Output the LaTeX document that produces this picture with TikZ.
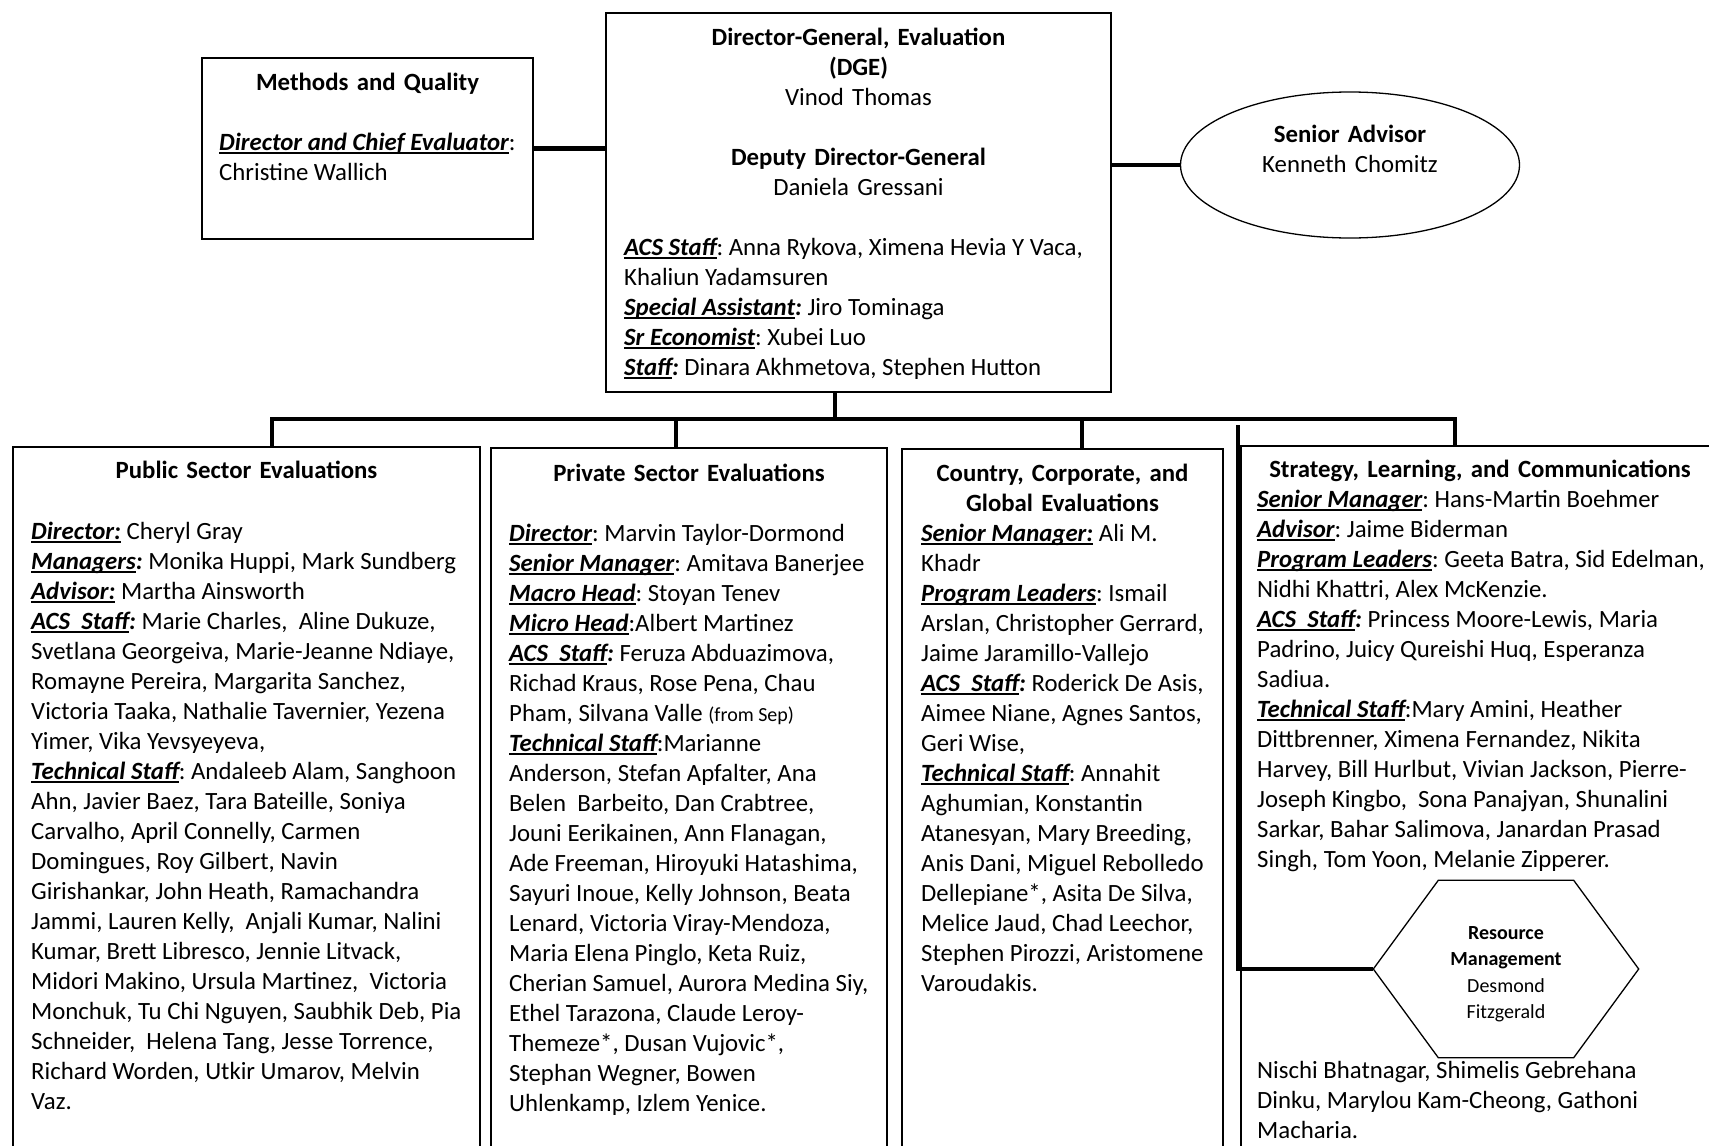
\documentclass[tikz,border=0pt]{standalone}
\usepackage{fontspec}
\setmainfont{Carlito}
\usetikzlibrary{shapes.geometric}
\frenchspacing
\newcommand{\ulab}[1]{\leavevmode\setbox0=\hbox{\bfseries\itshape #1}\rlap{\rule[-3.5pt]{\wd0}{1.2pt}}\box0\relax}
\newcommand{\bic}{\textbf{\textit{:}}}
\newcommand{\mainsize}{\fontsize{24.8}{30}\selectfont}
\begin{document}
\begin{tikzpicture}[x=1pt,y=-1pt,
  font=\mainsize,
  box/.style={draw, line width=1.3pt, inner sep=0pt},
  conn/.style={line width=4.5pt},
  body/.style={anchor=base west, inner sep=0pt, text width=520pt, align=flush left},
  ctitle/.style={anchor=base, inner sep=0pt, text width=480pt, align=center, font=\mainsize\bfseries},
  ctext/.style={anchor=base, inner sep=0pt, text width=480pt, align=center}]
\useasboundingbox (0,0) rectangle (1709,1146);
\clip (0,0) rectangle (1709,1146);
\fill[white] (0,0) rectangle (1709,1146);

% boxes
\node[box, minimum width=331pt, minimum height=181pt] (mq) at (367.5,148.5) {};
\node[box, minimum width=505pt, minimum height=379pt] (dge) at (858.5,202.5) {};
\node[box, ellipse, minimum width=339pt, minimum height=146pt] (sa) at (1350,165) {};
\node[box, minimum width=467pt, minimum height=723pt] (pse) at (246.5,808.5) {};
\node[box, minimum width=396pt, minimum height=722pt] (pvt) at (689,809) {};
\node[box, minimum width=321pt, minimum height=721pt] (ccg) at (1062.5,809.5) {};
\node[box, minimum width=479pt, minimum height=724pt] (slc) at (1480.5,808) {};
\node[inner sep=0pt, minimum width=265pt, minimum height=177pt] (rm) at (1506,969) {};
\draw[line width=1.3pt, fill=white] (rm.west) -- ([xshift=65pt]rm.north west) -- ([xshift=-65pt]rm.north east) -- (rm.east) -- ([xshift=-65pt]rm.south east) -- ([xshift=65pt]rm.south west) -- cycle;

% connectors
\coordinate (d0) at (835,419);
\coordinate (d1) at (272,419);
\coordinate (d2) at (676,419);
\coordinate (d3) at (1082,419);
\coordinate (d4) at (1455,419);
\coordinate (d5) at (1238,425);
\draw[conn] (mq.east) -- (mq.east -| dge.west);
\draw[conn] (sa.west) -- (sa.west -| dge.east);
\draw[conn] (d0 |- dge.south) -- (d0);
\draw[conn] (d1 |- pse.north) -- (d1) -- (d4) -- (d4 |- slc.north);
\draw[conn] (d2) -- (d2 |- pvt.north);
\draw[conn] (d3) -- (d3 |- ccg.north);
\draw[conn] (d5) -- (d5 |- rm.west) -- (rm.west);

% Methods and Quality
\node[ctitle] (mqt) at (367.5,90) {Methods and Quality};
\node[body] (mqb) at (219,150) {\ulab{Director and Chief Evaluator}:\\Christine Wallich};

% DGE
\node[ctitle] (dget) at (858.5,45) {Director-General, Evaluation\\(DGE)\\\mdseries Vinod Thomas\\[30pt]\bfseries Deputy Director-General\\\mdseries Daniela Gressani};
\node[body] (dgeb) at (624,255) {\ulab{ACS Staff}: Anna Rykova, Ximena Hevia Y Vaca,\\
Khaliun Yadamsuren\\
\ulab{Special Assistant}\bic{} Jiro Tominaga\\
\ulab{Sr Economist}: Xubei Luo\\
\ulab{Staff}\bic{} Dinara Akhmetova, Stephen Hutton};

% Senior Advisor
\node[ctitle] (sat) at (1350,142) {Senior Advisor\\\mdseries Kenneth Chomitz};

% Public Sector
\node[ctitle] (pset) at (246.5,478) {Public Sector Evaluations};
\node[body] (pseb) at (31,539) {\ulab{Director:} Cheryl Gray\\
\ulab{Managers}\bic{} Monika Huppi, Mark Sundberg\\
\ulab{Advisor:} Martha Ainsworth\\
\ulab{ACS\ \ Staff}\bic{} Marie Charles,\ \ Aline Dukuze,\\
Svetlana Georgeiva, Marie-Jeanne Ndiaye,\\
Romayne Pereira, Margarita Sanchez,\\
Victoria Taaka, Nathalie Tavernier, Yezena\\
Yimer, Vika Yevsyeyeva,\\
\ulab{Technical Staff}: Andaleeb Alam, Sanghoon\\
Ahn, Javier Baez, Tara Bateille, Soniya\\
Carvalho, April Connelly, Carmen\\
Domingues, Roy Gilbert, Navin\\
Girishankar, John Heath, Ramachandra\\
Jammi, Lauren Kelly,\ \ Anjali Kumar, Nalini\\
Kumar, Brett Libresco, Jennie Litvack,\\
Midori Makino, Ursula Martinez,\ \ Victoria\\
Monchuk, Tu Chi Nguyen, Saubhik Deb, Pia\\
Schneider,\ \ Helena Tang, Jesse Torrence,\\
Richard Worden, Utkir Umarov, Melvin\\
Vaz.};

% Private Sector
\node[ctitle] (pvtt) at (689,481) {Private Sector Evaluations};
\node[body] (pvtb) at (509,541) {\ulab{Director}: Marvin Taylor-Dormond\\
\ulab{Senior Manager}: Amitava Banerjee\\
\ulab{Macro Head}: Stoyan Tenev\\
\ulab{Micro Head}:Albert Martinez\\
\ulab{ACS\ \ Staff}\bic{} Feruza Abduazimova,\\
Richad Kraus, Rose Pena, Chau\\
Pham, Silvana Valle {\fontsize{20}{30}\selectfont (from Sep)}\\
\ulab{Technical Staff}:Marianne\\
Anderson, Stefan Apfalter, Ana\\
Belen\ \ Barbeito, Dan Crabtree,\\
Jouni Eerikainen, Ann Flanagan,\\
Ade Freeman, Hiroyuki Hatashima,\\
Sayuri Inoue, Kelly Johnson, Beata\\
Lenard, Victoria Viray-Mendoza,\\
Maria Elena Pinglo, Keta Ruiz,\\
Cherian Samuel, Aurora Medina Siy,\\
Ethel Tarazona, Claude Leroy-\\
Themeze*, Dusan Vujovic*,\\
Stephan Wegner, Bowen\\
Uhlenkamp, Izlem Yenice.};

% Country, Corporate, Global
\node[ctitle] (ccgt) at (1062.5,481) {Country, Corporate, and\\Global Evaluations};
\node[body] (ccgb) at (921,541) {\ulab{Senior Manager:} Ali M.\\
Khadr\\
\ulab{Program Leaders}: Ismail\\
Arslan, Christopher Gerrard,\\
Jaime Jaramillo-Vallejo\\
\ulab{ACS\ \ Staff}\bic{} Roderick De Asis,\\
Aimee Niane, Agnes Santos,\\
Geri Wise,\\
\ulab{Technical Staff}: Annahit\\
Aghumian, Konstantin\\
Atanesyan, Mary Breeding,\\
Anis Dani, Miguel Rebolledo\\
Dellepiane*, Asita De Silva,\\
Melice Jaud, Chad Leechor,\\
Stephen Pirozzi, Aristomene\\
Varoudakis.};

% Strategy, Learning, Communications
\node[ctitle] (slct) at (1480,477) {Strategy, Learning, and Communications};
\node[body] (slcb) at (1257,507) {\ulab{Senior Manager}: Hans-Martin Boehmer\\
\ulab{Advisor}: Jaime Biderman\\
\ulab{Program Leaders}: Geeta Batra, Sid Edelman,\\
Nidhi Khattri, Alex McKenzie.\\
\ulab{ACS\ \ Staff}\bic{} Princess Moore-Lewis, Maria\\
Padrino, Juicy Qureishi Huq, Esperanza\\
Sadiua.\\
\ulab{Technical Staff}:Mary Amini, Heather\\
Dittbrenner, Ximena Fernandez, Nikita\\
Harvey, Bill Hurlbut, Vivian Jackson, Pierre-\\
Joseph Kingbo,\ \ Sona Panajyan, Shunalini\\
Sarkar, Bahar Salimova, Janardan Prasad\\
Singh, Tom Yoon, Melanie Zipperer.};
\node[body] (slcc) at (1257,1078) {Nischi Bhatnagar, Shimelis Gebrehana\\
Dinku, Marylou Kam-Cheong, Gathoni\\
Macharia.};

% Resource Management text
\node[ctext, text width=250pt, font=\fontsize{20}{26.5}\selectfont] (rmt) at (1506,939) {\textbf{Resource}\\\textbf{Management}\\Desmond\\Fitzgerald};
\end{tikzpicture}
\end{document}
